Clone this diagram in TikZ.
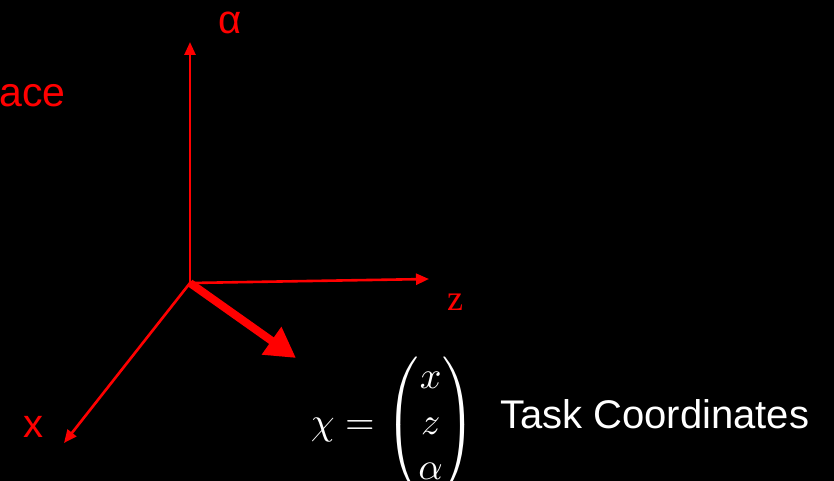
\documentclass[tikz,border=0pt]{standalone}
\usepackage{amsmath,amssymb}
\usepackage{fontspec}
\setmainfont{Liberation Sans}
\newfontfamily\serifz{Liberation Serif}
\usepackage{xcolor}
\usetikzlibrary{arrows.meta,positioning,calc}

\definecolor{axisred}{RGB}{255,0,0}

\begin{document}
\begin{tikzpicture}[x=1pt,y=-1pt,
    axis/.style={draw=axisred,line width=2.6pt,-{Triangle[length=13pt,width=11pt]}},
    bigvec/.style={draw=axisred,line width=8pt,-{Triangle[length=30pt,width=32pt]}},
    lbl/.style={text=axisred,inner sep=0pt}]
            \fill[black] (0,0) rectangle (834,481);
            \useasboundingbox (0,0) rectangle (834,481);
            % axes
            \coordinate (o) at (190,283);
            \coordinate (atip) at (190,42);
            \coordinate (ztip) at (429,279);
            \coordinate (xtip) at (64,443);
            \coordinate (vtip) at (296,358);
            \draw[axis] (o) -- (atip);
            \draw[axis] (o) -- (ztip);
            \draw[axis] (o) -- (xtip);
            \draw[bigvec] (o) -- (vtip);
            % labels
            \node[lbl,anchor=center] (alab) at (230,23) {\fontsize{40}{44}\selectfont α};
            \node[lbl,anchor=base] (zlab) at (455,310) {\fontsize{36}{40}\selectfont\serifz z};
            \node[lbl,anchor=base] (xlab) at (33,437) {\fontsize{40}{44}\selectfont x};
            \node[lbl,anchor=base east] (space) at (66,107) {\fontsize{41}{45}\selectfont ace};
            % task coordinates
            \node[text=white,inner sep=0pt,anchor=west,scale=3.8] (chi) at (310,425)
                {$\chi = \begin{pmatrix} x\\ z\\ \alpha \end{pmatrix}$};
            \node[text=white,inner sep=0pt,anchor=base west] (task) at (500,428)
                {\fontsize{40}{46}\selectfont Task Coordinates};
        \end{tikzpicture}
\end{document}
